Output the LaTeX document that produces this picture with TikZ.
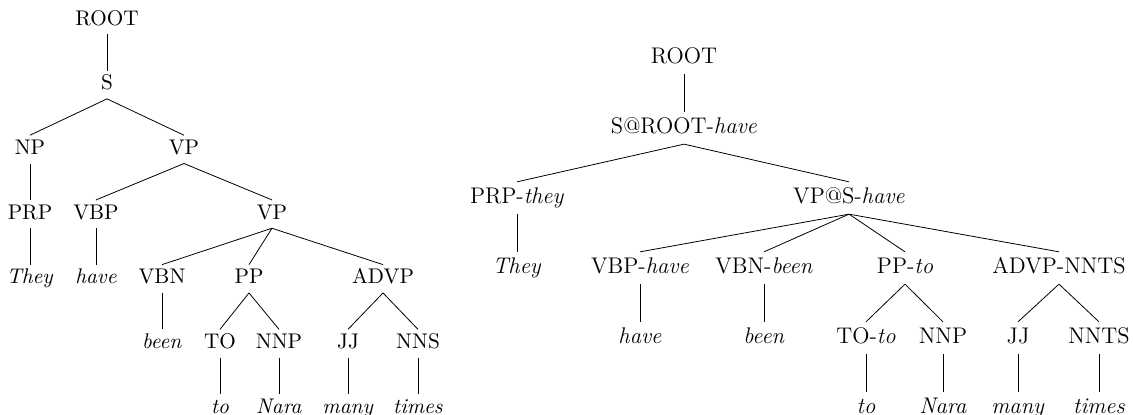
\documentclass[tikz,border=0pt]{standalone}
\usepackage{fontspec}
\usepackage{tikz}
\usetikzlibrary{positioning}

\begin{document}
\begin{tikzpicture}[on grid,
		lcat/.style={font=\fontsize{10.6}{13}\selectfont, text height=1.5ex, text depth=.3ex, inner sep=3pt},
		rcat/.style={font=\fontsize{11.3}{14}\selectfont, text height=1.5ex, text depth=.3ex, inner sep=4pt}]
		\useasboundingbox (0,-207.5pt) rectangle (566.5pt,0);
		
		% plain tree
		\begin{scope}[node distance=32.35pt, every node/.style=lcat]
		\node (root) at (53.5pt,-10pt) {ROOT};
		\node[below = of root] (s) {S};
		\node[below left = 32.35pt and 38.5pt of s] (np) {NP};
		\node[below right = 32.35pt and 38.5pt of s] (vp) {VP};
		
		\node[below = of np] (prp) {PRP};
		\node[below left = 32.35pt and 44pt of vp] (vbp) {VBP};
		\node[below right = 32.35pt and 44pt of vp] (vp2) {VP};
		
		\node[below = of prp] (they) {\textit{They}};
		\node[below = of vbp] (have) {\textit{have}};
		\node[below left = 32.35pt and 55pt of vp2] (vbn) {VBN};
		\node[below left = 32.35pt and 11.5pt of vp2] (pp) {PP};
		\node[below right = 32.35pt and 55.5pt of vp2] (advp) {ADVP};
		
		\node[below = of vbn] (been) {\textit{been}};
		\node[below left = 32.35pt and 14.5pt of pp] (to) {TO};
		\node[below right = 32.35pt and 15pt of pp] (nnp) {NNP};
		\node[below left = 32.35pt and 17.5pt of advp] (jj) {JJ};
		\node[below right = 32.35pt and 17.5pt of advp] (nns) {NNS};
		
		\node[below = of to] (wto) {\textit{to}};
		\node[below = of nnp] (nara) {\textit{Nara}};
		\node[below = of jj] (many) {\textit{many}};
		\node[below = of nns] (times) {\textit{times}};
		
		\path (root.south) edge (s.north)
		(s.south) edge (np.north)
		(s.south) edge (vp.north)
		(np.south) edge (prp.north)
		(vp.south) edge (vbp.north)
		(vp.south) edge (vp2.north)
		(prp.south) edge (they.north)
		(vbp.south) edge (have.north)
		(vp2.south) edge (vbn.north)
		(vp2.south) edge (pp.north)
		(vp2.south) edge (advp.north)
		(vbn.south) edge (been.north)
		(pp.south) edge (to.north)
		(pp.south) edge (nnp.north)
		(advp.south) edge (jj.north)
		(advp.south) edge (nns.north)
		(to.south) edge (wto.north)
		(nnp.south) edge (nara.north)
		(jj.south) edge (many.north)
		(nns.south) edge (times.north);
		\end{scope}
		
		% annotated tree
		\begin{scope}[node distance=35pt, every node/.style=rcat]
		\node (rroot) at (342pt,-29pt) {ROOT};
		\node[below = of rroot] (rs) {S@ROOT-\textit{have}};
		\node[below left = 35pt and 83.5pt of rs] (rprp) {PRP-\textit{they}};
		\node[below right = 35pt and 82.5pt of rs] (rvp) {VP@S-\textit{have}};
		
		\node[below = of rprp] (rthey) {\textit{They}};
		\node[below left = 35pt and 104.5pt of rvp] (rvbp) {VBP-\textit{have}};
		\node[below left = 35pt and 42.5pt of rvp] (rvbn) {VBN-\textit{been}};
		\node[below right = 35pt and 28pt of rvp] (rpp) {PP-\textit{to}};
		\node[below right = 35pt and 105pt of rvp] (radvp) {ADVP-NNTS};
		
		\node[below = of rvbp] (rhave) {\textit{have}};
		\node[below = of rvbn] (rbeen) {\textit{been}};
		\node[below left = 35pt and 19.5pt of rpp] (rto) {TO-\textit{to}};
		\node[below right = 35pt and 19pt of rpp] (rnnp) {NNP};
		\node[below left = 35pt and 20.5pt of radvp] (rjj) {JJ};
		\node[below right = 35pt and 20pt of radvp] (rnnts) {NNTS};
		
		\node[below = of rto] (rwto) {\textit{to}};
		\node[below = of rnnp] (rnara) {\textit{Nara}};
		\node[below = of rjj] (rmany) {\textit{many}};
		\node[below = of rnnts] (rtimes) {\textit{times}};
		
		\path (rroot.south) edge (rs.north)
		(rs.south) edge (rprp.north)
		(rs.south) edge (rvp.north)
		(rprp.south) edge (rthey.north)
		(rvp.south) edge (rvbp.north)
		(rvp.south) edge (rvbn.north)
		(rvp.south) edge (rpp.north)
		(rvp.south) edge (radvp.north)
		(rvbp.south) edge (rhave.north)
		(rvbn.south) edge (rbeen.north)
		(rpp.south) edge (rto.north)
		(rpp.south) edge (rnnp.north)
		(radvp.south) edge (rjj.north)
		(radvp.south) edge (rnnts.north)
		(rto.south) edge (rwto.north)
		(rnnp.south) edge (rnara.north)
		(rjj.south) edge (rmany.north)
		(rnnts.south) edge (rtimes.north);
		\end{scope}
\end{tikzpicture}
\end{document}
